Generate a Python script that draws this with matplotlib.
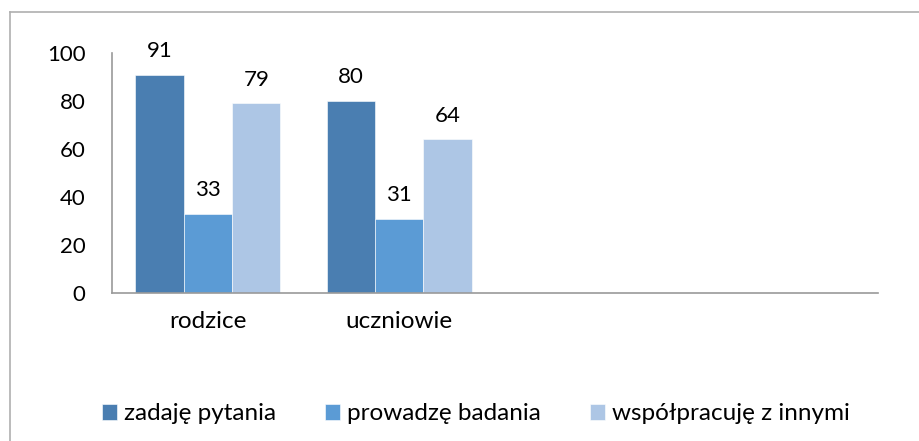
import numpy as np
import matplotlib
matplotlib.use("Agg")
import matplotlib.pyplot as plt
from matplotlib.lines import Line2D

categories = ["rodzice", "uczniowie", "", ""]
series_names = ["zadaję pytania", "prowadzę badania", "współpracuję z innymi"]
zadaje = [91, 80]
prowadze = [33, 31]
wspolpracuje = [79, 64]
colors = ["#4A7EB1", "#5B9BD5", "#ADC6E5"]

plt.rcParams['font.family'] = ['Lato', 'DejaVu Sans']
FS_NUM = 16
FS_TXT = 17.5


def main():
    fig = plt.figure(figsize=(9.19, 4.41), dpi=100)
    ax = fig.add_axes([112 / 919, 1 - 293 / 441, 766 / 919, 240 / 441])

    width = 0.253
    x = np.arange(len(zadaje))
    handles = []
    for i, (vals, col) in enumerate(zip([zadaje, prowadze, wspolpracuje], colors)):
        bars = ax.bar(x + (i - 1) * width, vals, width, color=col,
                      edgecolor='white', linewidth=0.4, label=series_names[i])
        handles.append(bars)
        for b, v in zip(bars, vals):
            ax.annotate(str(v), (b.get_x() + b.get_width() / 2, v),
                        xytext=(0, 10), textcoords='offset points',
                        ha='center', va='bottom', fontsize=FS_NUM)

    ax.set_xlim(-0.5, len(categories) - 0.5)
    ax.set_ylim(0, 100)
    ax.set_yticks(range(0, 101, 20))
    ax.set_xticks(range(len(categories)))
    ax.set_xticklabels(categories)
    ax.tick_params(axis='y', length=0, pad=19, labelsize=FS_NUM)
    ax.tick_params(axis='x', length=0, pad=13, labelsize=FS_TXT)

    for s in ['top', 'right']:
        ax.spines[s].set_visible(False)
    for s in ['left', 'bottom']:
        ax.spines[s].set_color('#9A9A9A')
        ax.spines[s].set_linewidth(1.2)

    fig.legend(handles=handles, loc='center', bbox_to_anchor=(476 / 919, 1 - 414 / 441),
               ncol=3, frameon=False, fontsize=FS_TXT, handlelength=0.62, handleheight=0.62,
               handletextpad=0.3, columnspacing=2.0)

    # outer chart border (only left and top visible in the crop)
    x0 = 9.5 / 919
    y0 = 1 - 11.5 / 441
    fig.add_artist(Line2D([x0, x0], [0, y0], color='#AFAFAF', linewidth=1.2))
    fig.add_artist(Line2D([x0, 1], [y0, y0], color='#AFAFAF', linewidth=1.2))

    fig.savefig("out.png", dpi=100)


if __name__ == "__main__":
    main()
